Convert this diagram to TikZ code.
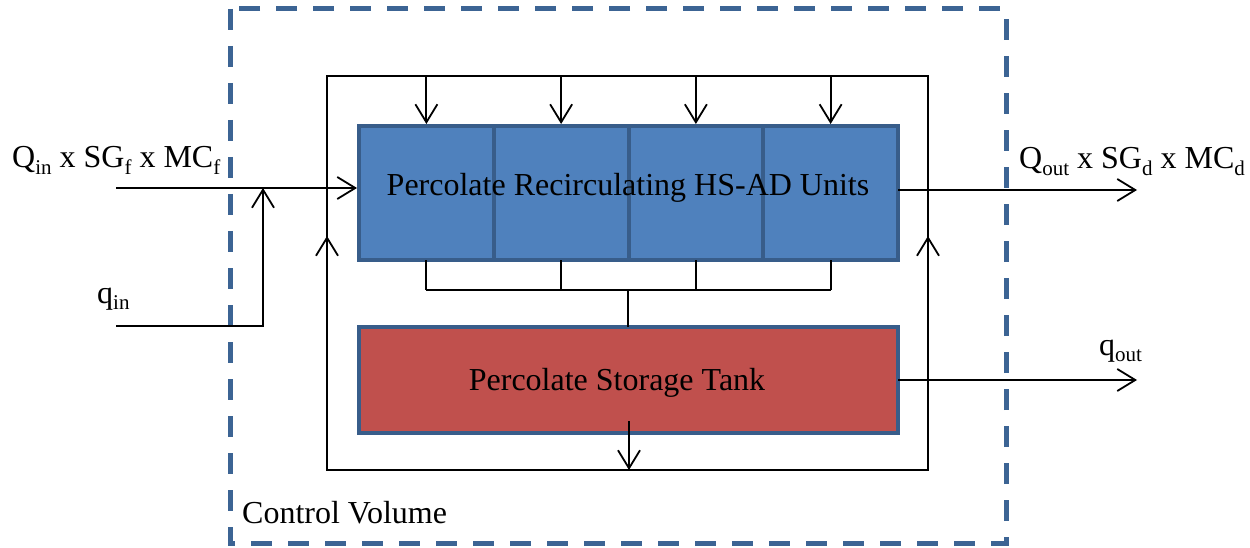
\documentclass[tikz,border=0pt]{standalone}
\usepackage{fontspec}
\setmainfont{Liberation Serif}
\usetikzlibrary{arrows.meta}
\definecolor{cvblue}{HTML}{3C6494}
\definecolor{unitblue}{HTML}{4F81BD}
\definecolor{edgeblue}{HTML}{385D8A}
\definecolor{tankred}{HTML}{C0504D}
\newcommand{\sbs}[1]{\raisebox{-0.2em}{\fontsize{21}{21}\selectfont #1}}
\begin{document}
\begin{tikzpicture}[x=1pt,y=-1pt,
  >={Straight Barb[length=18pt,width=22pt]},
  wire/.style={draw=black, line width=1.8pt},
  cell/.style={draw=edgeblue, fill=unitblue, line width=4pt, minimum width=134.75pt,
    minimum height=134pt, inner sep=0pt, outer sep=0pt, anchor=north west},
  tankbox/.style={draw=edgeblue, fill=tankred, line width=4pt, minimum width=539pt,
    minimum height=106pt, inner sep=0pt, outer sep=0pt},
  lbl/.style={font=\fontsize{32}{38}\selectfont, inner sep=0pt, anchor=base west},
  boxtext/.style={font=\fontsize{32}{38}\selectfont, inner sep=0pt},
  cv/.style={draw=cvblue, line width=5pt, dash pattern=on 21pt off 16pt}]
\useasboundingbox (0,0) rectangle (1250,548);

% control volume
\draw[cv] (230,9) rectangle (1006,543);
\node[lbl] (cvlabel) at (242,523) {Control Volume};

% recirculation loop
\coordinate (tl) at (327,76);
\coordinate (tr) at (928,76);
\coordinate (bl) at (327,470);
\coordinate (br) at (928,470);
\coordinate (lmid) at (327,236);
\coordinate (rmid) at (928,236);
\draw[wire] (tl) -- (tr) -- (br) -- (bl) -- cycle;
\draw[wire,->] (bl) -- (lmid);
\draw[wire,->] (br) -- (rmid);

% HS-AD units
\node[cell] (c1) at (359,126) {};
\node[cell] (c2) at (c1.north east) {};
\node[cell] (c3) at (c2.north east) {};
\node[cell] (c4) at (c3.north east) {};
\node[boxtext] (units) at (628,188) {Percolate Recirculating HS-AD Units};

% storage tank
\node[tankbox] (tank) at (628.5,380) {};
\node[boxtext] (tanklabel) at (617,383) {Percolate Storage Tank};

% feed arrows into units
\foreach \c in {c1,c2,c3,c4}{
  \draw[wire,->,shorten >=2pt] (\c.north |- tl) -- (\c.north);
}

% collector below units
\coordinate (coll) at (628,290);
\foreach \c in {c1,c2,c3,c4}{
  \draw[wire] (\c.south) -- (\c.south |- coll);
}
\draw[wire] (c1.south |- coll) -- (c4.south |- coll);
\draw[wire] (coll) -- (coll |- tank.north);

% tank outlet to loop
\coordinate (tankout) at (629,421);
\draw[wire,->] (tankout) -- (tankout |- bl);

% inputs
\coordinate (Qinstart) at (116,188);
\coordinate (qinstart) at (116,326);
\coordinate (qincorner) at (263,326);
\draw[wire,->,shorten >=2pt] (Qinstart) -- (c1.west |- Qinstart);
\draw[wire,->] (qinstart) -- (qincorner) -- (qincorner |- Qinstart);
\node[lbl] (Qinlabel) at (12,168) {Q\sbs{in} x SG\sbs{f} x MC\sbs{f}};
\node[lbl] (qinlabel) at (97,303) {q\sbs{in}};

% outputs
\coordinate (Qoutend) at (1137,190);
\coordinate (qoutend) at (1137,380);
\draw[wire,->] (c4.east |- Qoutend) -- (Qoutend);
\draw[wire,->] (tank.east) -- (qoutend);
\node[lbl] (Qoutlabel) at (1019,169) {Q\sbs{out} x SG\sbs{d} x MC\sbs{d}};
\node[lbl] (qoutlabel) at (1099,355) {q\sbs{out}};
\end{tikzpicture}
\end{document}
